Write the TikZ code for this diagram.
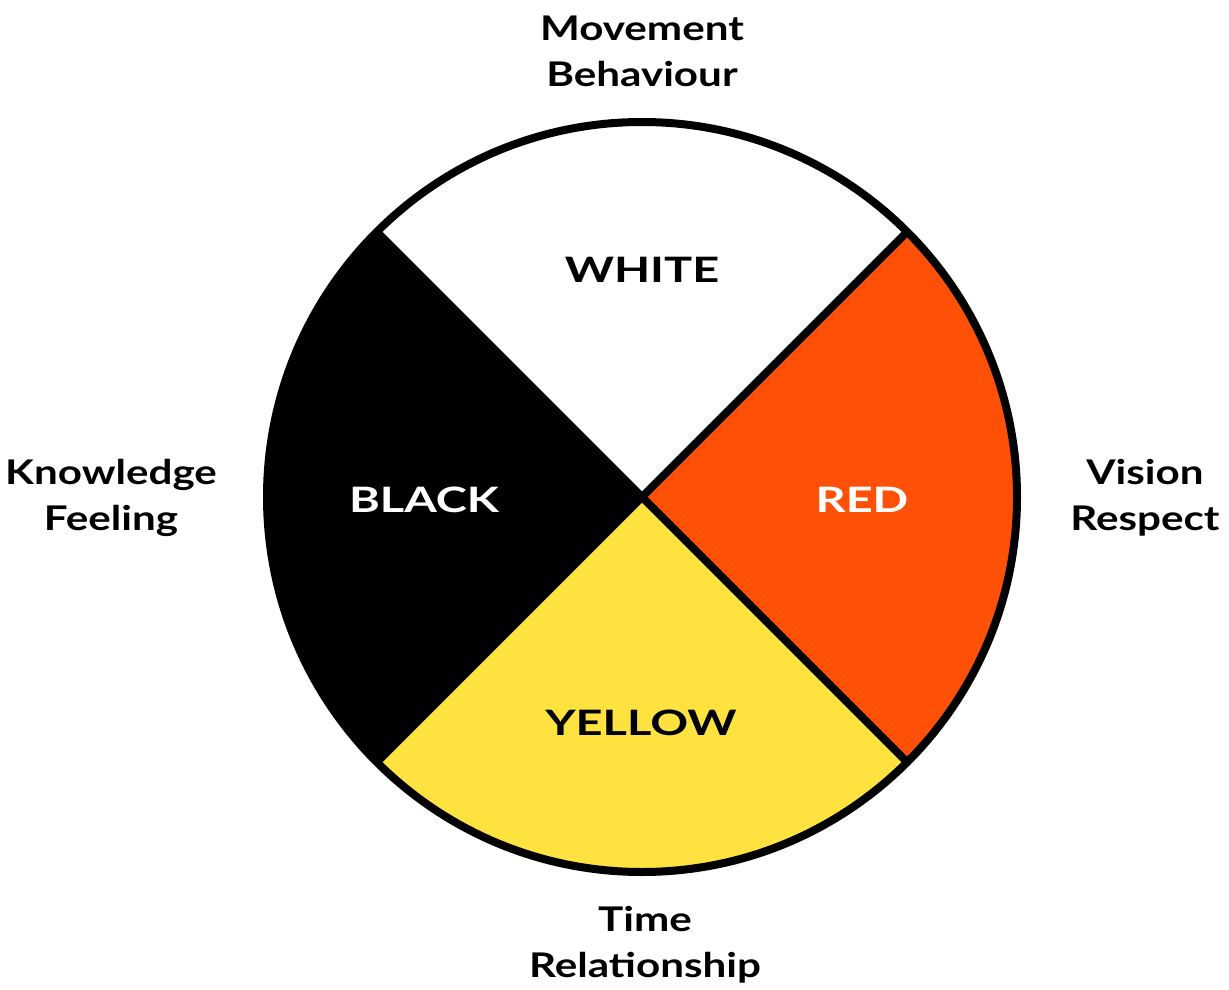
\documentclass[tikz,border=0pt]{standalone}
\usepackage{fontspec}
\setmainfont{Lato}
\definecolor{wheelred}{HTML}{FF5008}
\definecolor{wheelyellow}{HTML}{FEE23F}
\begin{document}
\begin{tikzpicture}[x=1pt,y=-1pt,
  inner/.style={font=\fontsize{35}{42}\selectfont\bfseries\addfontfeature{FakeStretch=1.34}},
  outer/.style={font=\fontsize{34}{46}\selectfont\bfseries\addfontfeature{FakeStretch=1.24}, align=center},
  rim/.style={line width=8pt, black}]
\useasboundingbox (0,0) rectangle (1229,990);
\coordinate (c) at (642,497);
\def\R{375}
\fill[white] (c) -- ++(-45:\R) arc[start angle=-45, end angle=-135, radius=\R] -- cycle;
\fill[black] (c) -- ++(-135:\R) arc[start angle=-135, end angle=-225, radius=\R] -- cycle;
\fill[wheelyellow] (c) -- ++(135:\R) arc[start angle=135, end angle=45, radius=\R] -- cycle;
\fill[wheelred] (c) -- ++(45:\R) arc[start angle=45, end angle=-45, radius=\R] -- cycle;
\draw[rim] (c) -- ++(-45:\R);
\draw[rim] (c) -- ++(45:\R);
\draw[rim] (c) -- ++(135:\R);
\draw[rim] (c) -- ++(-135:\R);
\draw[rim] (c) circle[radius=\R];
\node[inner] (white) at (642,270) {WHITE};
\node[inner, text=white] (black) at (424,500) {BLACK};
\node[inner, text=white] (red) at (862,500) {RED};
\node[inner] (yellow) at (641,723) {YELLOW};
\node[outer] (n) at (642,51) {Movement\\Behaviour};
\node[outer] (w) at (111,498) {Knowledge\\Feeling};
\node[outer] (e) at (1145,498) {Vision\\Respect};
\node[outer] (s) at (645,945) {Time\\Relationship};
\end{tikzpicture}
\end{document}
